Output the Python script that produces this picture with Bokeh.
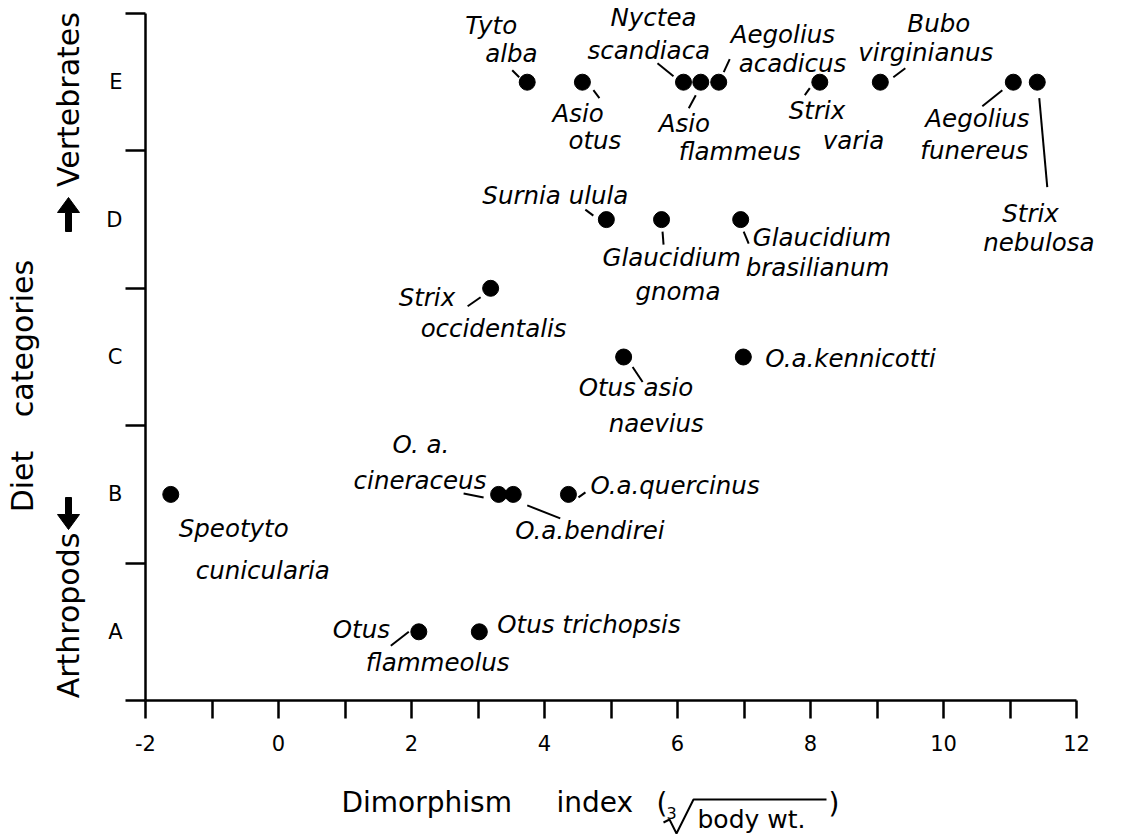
import math
from bokeh.plotting import figure
from bokeh.layouts import row, column
from bokeh.models import Label, FixedTicker, Range1d, ColumnDataSource
from bokeh.core.properties import value
from bokeh.embed import file_html
from bokeh.resources import INLINE

# ---------------- data ----------------
species = ["Speotyto cunicularia", "Otus flammeolus", "Otus trichopsis",
           "O. a. cineraceus", "O. a. bendirei", "O. a. quercinus",
           "Otus asio naevius", "O. a. kennicotti", "Strix occidentalis",
           "Surnia ulula", "Glaucidium gnoma", "Glaucidium brasilianum",
           "Tyto alba", "Asio otus", "Nyctea scandiaca", "Asio flammeus",
           "Aegolius acadicus", "Strix varia", "Bubo virginianus",
           "Aegolius funereus", "Strix nebulosa"]
dimorphism_index = [-1.62, 2.11, 3.02, 3.31, 3.53, 4.36, 5.19, 6.99, 3.19,
                    4.93, 5.76, 6.95, 3.74, 4.57, 6.09, 6.35, 6.62, 8.14,
                    9.05, 11.05, 11.41]
# diet category: 1=A ... 5=E (Strix occidentalis lies between C and D)
diet_category = [2, 1, 1, 2, 2, 2, 3, 3, 3.5, 4, 4, 4, 5, 5, 5, 5, 5, 5, 5, 5, 5]
category_labels = ["A", "B", "C", "D", "E"]
category_values = [1, 2, 3, 4, 5]
x_major_ticks = [-2, 0, 2, 4, 6, 8, 10, 12]
x_minor_ticks = [-1, 1, 3, 5, 7, 9, 11]

# ---------------- label layout (screen-pixel offsets from each point, y down) ----------------
label_layout = {
    "Tyto alba": ([("Tyto", -62, -57), ("alba", -42, -29)], (-15, -12, -8, -5)),
    "Asio otus": ([("Asio", -30, 31), ("otus", -14, 58)], (11, 8, 17, 16)),
    "Nyctea scandiaca": ([("Nyctea", -73, -65), ("scandiaca", -96, -32)], (-26, -19, -10, -6)),
    "Asio flammeus": ([("Asio", -42, 41), ("flammeus", -22, 69)], (-5, 13, -12, 26)),
    "Aegolius acadicus": ([("Aegolius", 12, -48), ("acadicus", 20, -19)], (5, -10, 11, -23)),
    "Strix varia": ([("Strix", -31, 28), ("varia", 3, 58)], (-10, 6, -15, 13)),
    "Bubo virginianus": ([("Bubo", 27, -59), ("virginianus", -22, -30)], (13, -5, 25, -14)),
    "Aegolius funereus": ([("Aegolius", -88, 36), ("funereus", -93, 68)], (-11, 8, -31, 24)),
    "Strix nebulosa": ([("Strix", -35, 131), ("nebulosa", -54, 160)], (2, 16, 10, 105)),
    "Surnia ulula": ([("Surnia ulula", -124, -24)], (-21, -10, -13, -4)),
    "Glaucidium gnoma": ([("Glaucidium", -59, 38), ("gnoma", -26, 72)], (1, 12, 2, 25)),
    "Glaucidium brasilianum": ([("Glaucidium", 12, 18), ("brasilianum", 5, 48)], (3, 12, 8, 24)),
    "Strix occidentalis": ([("Strix", -92, 9), ("occidentalis", -70, 40)], (-23, 18, -10, 9)),
    "Otus asio naevius": ([("Otus asio", -45, 30), ("naevius", -15, 66)], (9, 10, 19, 25)),
    "O. a. kennicotti": ([("O.a.kennicotti", 22, 1)], None),
    "O. a. cineraceus": ([("O. a.", -106, -50), ("cineraceus", -145, -14)], (-35, -1, -15, 3)),
    "O. a. bendirei": ([("O.a.bendirei", 2, 36)], (14, 11, 47, 24)),
    "O. a. quercinus": ([("O.a.quercinus", 22, -9)], (10, 3, 17, -2)),
    "Speotyto cunicularia": ([("Speotyto", 8, 34), ("cunicularia", 25, 76)], None),
    "Otus flammeolus": ([("Otus", -86, -2), ("flammeolus", -53, 31)], (-10, 0, -28, 14)),
    "Otus trichopsis": ([("Otus trichopsis", 18, -7)], None),
}

# ---------------- geometry (page pixels) ----------------
FONT = "DejaVu Sans"
TOTAL_W, TOTAL_H = 1120, 835
LEFT_W = 90                # left strip holding the y titles
TOP_H = 762                # height of the main plot
AX_LEFT, AX_BOTTOM = 145, 700
PX = (1076 - 145) / 14.0   # pixels per x unit
PY = (700 - 13) / 5.0      # pixels per category

main_w = TOTAL_W - LEFT_W
b_left = AX_LEFT - LEFT_W
b_bottom = TOP_H - AX_BOTTOM
frame_w = main_w - b_left
frame_h = TOP_H - b_bottom

p = figure(width=main_w, height=TOP_H,
           x_range=Range1d(-2, -2 + frame_w / PX),
           y_range=Range1d(0.5, 0.5 + frame_h / PY),
           output_backend="svg", toolbar_location=None,
           min_border_left=b_left, min_border_right=0,
           min_border_top=0, min_border_bottom=b_bottom)
p.outline_line_color = None
p.grid.visible = False

# x axis
xa = p.xaxis[0]
xa.bounds = (x_major_ticks[0], x_major_ticks[-1])
xa.ticker = FixedTicker(ticks=x_major_ticks, minor_ticks=x_minor_ticks)
xa.major_tick_out = 18
xa.major_tick_in = 0
xa.minor_tick_out = 18
xa.minor_tick_in = 0
xa.axis_line_width = 2.5
xa.major_tick_line_width = 2.5
xa.minor_tick_line_width = 2.5
xa.major_label_text_font = FONT
xa.major_label_text_font_size = "21px"
xa.major_label_text_color = "black"
xa.major_label_standoff = 16
xa.major_label_overrides = {t: str(t) for t in x_major_ticks}

# y axis
ya = p.yaxis[0]
ya.bounds = (category_values[0] - 0.5, category_values[-1] + 0.5)
ya.ticker = FixedTicker(ticks=category_values,
                        minor_ticks=[v - 0.5 for v in category_values] + [category_values[-1] + 0.5])
ya.major_tick_out = 0
ya.major_tick_in = 0
ya.minor_tick_out = 20
ya.minor_tick_in = 0
ya.axis_line_width = 2.5
ya.minor_tick_line_width = 2.5
ya.major_label_text_font = FONT
ya.major_label_text_font_size = "21px"
ya.major_label_text_color = "black"
ya.major_label_standoff = 3
ya.major_label_overrides = {v: c for v, c in zip(category_values, category_labels)}

# points
src = ColumnDataSource(dict(x=dimorphism_index, y=diet_category, name=species))
p.scatter("x", "y", source=src, size=16, color="black")

# leaders and species labels
lx0, ly0, lx1, ly1 = [], [], [], []
for name, xv, yv in zip(species, dimorphism_index, diet_category):
    lines, leader = label_layout[name]
    for txt, dx, dy in lines:
        p.add_layout(Label(x=xv + dx / PX, y=yv - dy / PY, text=txt,
                           text_font=FONT, text_font_style="italic",
                           text_font_size="24.5px", text_color="black",
                           text_align="left", text_baseline="middle"))
    if leader is not None:
        a, b, c, d = leader
        lx0.append(xv + a / PX); ly0.append(yv - b / PY)
        lx1.append(xv + c / PX); ly1.append(yv - d / PY)
p.segment(lx0, ly0, lx1, ly1, line_color="black", line_width=2)


def strip(w, h, bb=0):
    f = figure(width=w, height=h, x_range=Range1d(0, w), y_range=Range1d(0, h - bb),
               output_backend="svg", toolbar_location=None,
               x_axis_type=None, y_axis_type=None,
               min_border_left=0, min_border_right=0, min_border_top=0, min_border_bottom=bb)
    f.outline_line_color = None
    f.grid.visible = False
    return f


# ---------------- y titles (left strip, page pixels; frame spans page y 0..700) ----------------
left = strip(LEFT_W, TOP_H, b_bottom)
ytitles = dict(x=[22, 22, 68, 68], y=[481, 338, 615, 99],
               text=["Diet", "categories", "Arthropods", "Vertebrates"])
left.text(x=ytitles["x"], y=[AX_BOTTOM - v for v in ytitles["y"]], text=ytitles["text"],
          angle=math.pi / 2, text_font=value(FONT), text_font_size="30px",
          text_align="center", text_baseline="middle", text_color="black")


def arrow_poly(cx, tail, tip):
    s = 1 if tip > tail else -1   # +1 pointing down (page)
    base = tip - s * 15
    xs = [cx, cx - 11, cx - 3, cx - 3, cx + 3, cx + 3, cx + 11]
    ys = [tip, base, base, tail, tail, base, base]
    return xs, [AX_BOTTOM - v for v in ys]


ax1, ay1 = arrow_poly(68, 497, 529)
ax2, ay2 = arrow_poly(68, 231, 197)
left.patches([ax1, ax2], [ay1, ay2], fill_color="black", line_color="black", line_width=1)

# ---------------- x title (bottom strip, page pixels) ----------------
BOT_H = TOTAL_H - TOP_H
bottom = strip(TOTAL_W, BOT_H)


def bt(txt, px, py, size):
    bottom.text(x=[px], y=[TOTAL_H - py], text=[txt], text_font=value(FONT),
                text_font_size=size, text_align="left", text_baseline="middle",
                text_color="black")


bt("Dimorphism", 341, 802, "28px")
bt("index", 556, 802, "28px")
bt("(", 656, 803, "28px")
bt("3", 666, 812, "16px")
bt("body wt.", 697, 819, "25px")
bt(")", 828, 803, "28px")
rx = [663, 669, 676, 693, 826]
ry = [822, 819, 833, 799, 799]
bottom.line(rx, [TOTAL_H - v for v in ry], line_color="black", line_width=2)

layout = column(row(left, p), bottom)
open("out.html", "w").write(file_html(layout, INLINE))
